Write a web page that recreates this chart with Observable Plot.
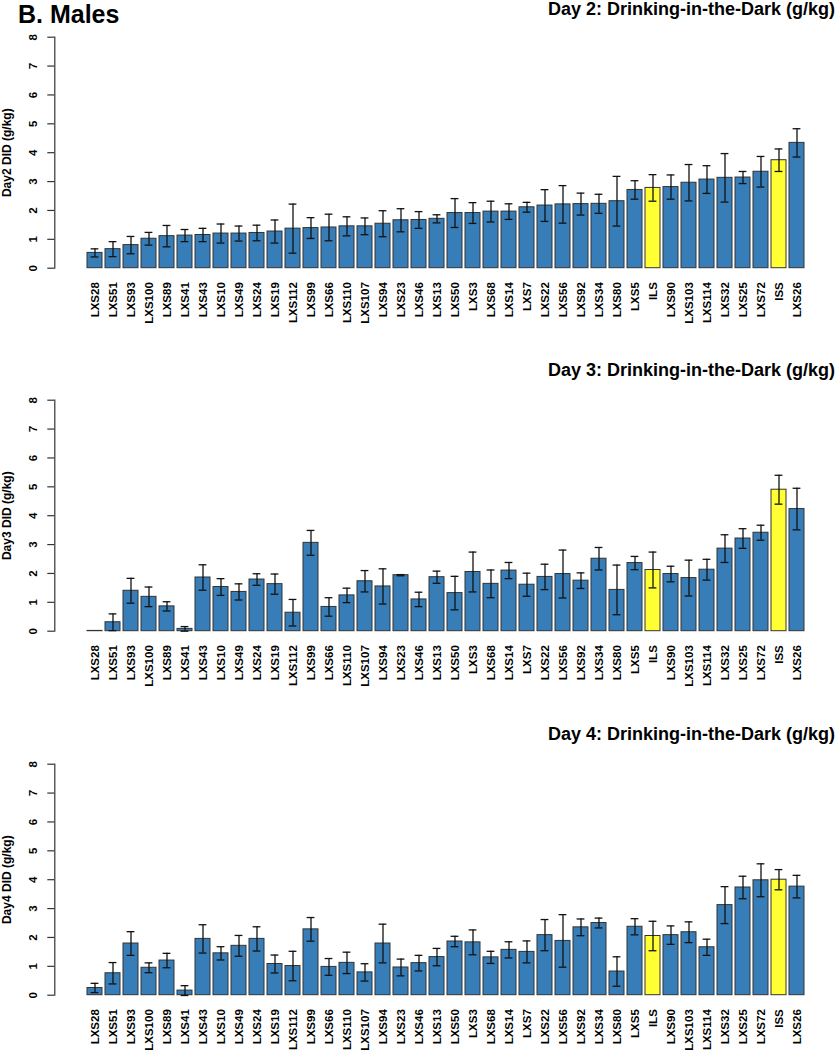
<!DOCTYPE html>
<html><head><meta charset="utf-8">
<script src="https://cdn.jsdelivr.net/npm/d3@7"></script>
<script src="https://cdn.jsdelivr.net/npm/@observablehq/plot@0.6"></script>
<style>
html,body{margin:0;padding:0;background:#fff;}
#wrap{position:relative;width:836px;height:1050px;overflow:hidden;font-family:"Liberation Sans",Arial,sans-serif;font-weight:bold;color:#000;}
.panel{position:absolute;left:0;}
.title{position:absolute;right:1px;font-size:18px;line-height:18px;white-space:nowrap;}
.main{position:absolute;left:18px;top:1.5px;font-size:25px;line-height:25px;white-space:nowrap;}
</style></head><body><div id="wrap"></div>
<script>
const strains = ["LXS28","LXS51","LXS93","LXS100","LXS89","LXS41","LXS43","LXS10","LXS49","LXS24","LXS19","LXS112","LXS99","LXS66","LXS110","LXS107","LXS94","LXS23","LXS46","LXS13","LXS50","LXS3","LXS68","LXS14","LXS7","LXS22","LXS56","LXS92","LXS34","LXS80","LXS5","ILS","LXS90","LXS103","LXS114","LXS32","LXS25","LXS72","ISS","LXS26"];
const parentals = ["ILS","ISS"];

const day2Mean = [0.53,0.66,0.80,1.02,1.11,1.13,1.15,1.20,1.20,1.22,1.27,1.37,1.39,1.41,1.45,1.45,1.54,1.66,1.67,1.71,1.91,1.91,1.96,1.96,2.11,2.17,2.21,2.22,2.23,2.32,2.71,2.78,2.81,2.96,3.07,3.13,3.14,3.34,3.74,4.34];
const day2SE   = [0.14,0.26,0.30,0.22,0.37,0.21,0.23,0.33,0.26,0.27,0.40,0.85,0.36,0.46,0.33,0.29,0.45,0.40,0.29,0.14,0.50,0.36,0.36,0.27,0.17,0.55,0.65,0.38,0.33,0.86,0.32,0.46,0.42,0.63,0.48,0.84,0.21,0.53,0.39,0.49];

const day3Mean = [0.01,0.31,1.40,1.19,0.86,0.08,1.86,1.53,1.36,1.79,1.63,0.64,3.06,0.84,1.24,1.73,1.55,1.94,1.10,1.87,1.32,2.05,1.64,2.10,1.61,1.88,1.98,1.75,2.51,1.43,2.36,2.12,1.98,1.84,2.13,2.86,3.21,3.41,4.90,4.23];
const day3SE   = [0,0.29,0.43,0.34,0.16,0.08,0.44,0.29,0.28,0.20,0.35,0.46,0.43,0.32,0.25,0.37,0.61,0.02,0.25,0.21,0.58,0.69,0.48,0.28,0.40,0.44,0.83,0.27,0.39,0.86,0.23,0.62,0.27,0.62,0.36,0.48,0.34,0.26,0.50,0.72];

const day4Mean = [0.25,0.76,1.79,0.95,1.20,0.16,1.95,1.45,1.71,1.95,1.08,1.01,2.28,0.98,1.12,0.79,1.79,0.96,1.11,1.32,1.86,1.83,1.31,1.57,1.50,2.08,1.88,2.35,2.50,0.82,2.37,2.05,2.08,2.18,1.66,3.12,3.73,3.98,4.00,3.76];
const day4SE   = [0.16,0.37,0.41,0.17,0.25,0.17,0.49,0.23,0.36,0.42,0.31,0.51,0.41,0.29,0.37,0.30,0.67,0.29,0.27,0.30,0.18,0.43,0.21,0.28,0.38,0.54,0.91,0.29,0.17,0.51,0.28,0.51,0.32,0.36,0.28,0.64,0.39,0.57,0.35,0.39];

const yTicks = [0,1,2,3,4,5,6,7,8];
const mainTitle = "B. Males";
const panelTitles = ["Day 2: Drinking-in-the-Dark (g/kg)","Day 3: Drinking-in-the-Dark (g/kg)","Day 4: Drinking-in-the-Dark (g/kg)"];
const yLabels = ["Day2 DID (g/kg)","Day3 DID (g/kg)","Day4 DID (g/kg)"];
const means = [day2Mean, day3Mean, day4Mean];
const ses = [day2SE, day3SE, day4SE];

const wrap = document.getElementById("wrap");
const panelTops = [0, 363.3, 726.6];
const titleBaselines = [15, 376.7, 740];

const m = document.createElement("div");
m.className = "main"; m.textContent = mainTitle;

panelTitles.forEach((title, k) => {
  const data = strains.map((s, i) => ({strain: s, mean: means[k][i], se: ses[k][i], group: parentals.includes(s) ? "parental" : "RI"}));
  const withErr = data.filter(d => d.se > 0);
  const plot = Plot.plot({
    width: 836, height: 340,
    marginTop: 36.7, marginBottom: 72.3, marginLeft: 54.3, marginRight: 0,
    style: {fontFamily: '"Liberation Sans", Arial, sans-serif', fontWeight: "bold", fontSize: "11.5px", background: "transparent", overflow: "visible", color: "#000"},
    x: {domain: strains, range: [83.7, 808.3], paddingInner: 1/6, paddingOuter: 0, axis: null},
    y: {domain: [0, 8]},
    color: {domain: ["RI", "parental"], range: ["#377EB8", "#FFFF33"]},
    marks: [
      Plot.frame({anchor: "left", stroke: "#333", strokeWidth: 1.2}),
      Plot.axisY({ticks: yTicks, tickSize: 7, tickFormat: () => "", label: null, stroke: "#333", strokeWidth: 1.2}),
      Plot.text(yTicks, {y: d => d, text: d => String(d), frameAnchor: "left", dx: -21, rotate: -90, textAnchor: "middle", lineAnchor: "middle", fontSize: 11.5}),
      Plot.text([yLabels[k]], {text: d => d, frameAnchor: "left", dx: -47.8, rotate: -90, textAnchor: "middle", lineAnchor: "middle", fontSize: 12}),
      Plot.barY(data, {x: "strain", y: "mean", fill: "group", stroke: "#333", strokeWidth: 1}),
      Plot.ruleX(withErr, {x: "strain", y1: d => d.mean - d.se, y2: d => d.mean + d.se, stroke: "#111", strokeWidth: 1.3}),
      Plot.tickY(withErr, {x: "strain", y: d => d.mean + d.se, insetLeft: 3.6, insetRight: 3.6, stroke: "#111", strokeWidth: 1.3}),
      Plot.tickY(withErr, {x: "strain", y: d => d.mean - d.se, insetLeft: 3.6, insetRight: 3.6, stroke: "#111", strokeWidth: 1.3}),
      Plot.text(strains, {x: d => d, text: d => d, frameAnchor: "bottom", dy: 14, rotate: -90, textAnchor: "end", lineAnchor: "middle", fontSize: 11.5})
    ]
  });
  plot.classList.add("panel");
  plot.style.top = panelTops[k] + "px";
  wrap.appendChild(plot);
  const t = document.createElement("div");
  t.className = "title";
  t.textContent = title;
  t.style.top = (titleBaselines[k] - 15.24) + "px";
  wrap.appendChild(t);
});
wrap.appendChild(m);
</script>
</body></html>
